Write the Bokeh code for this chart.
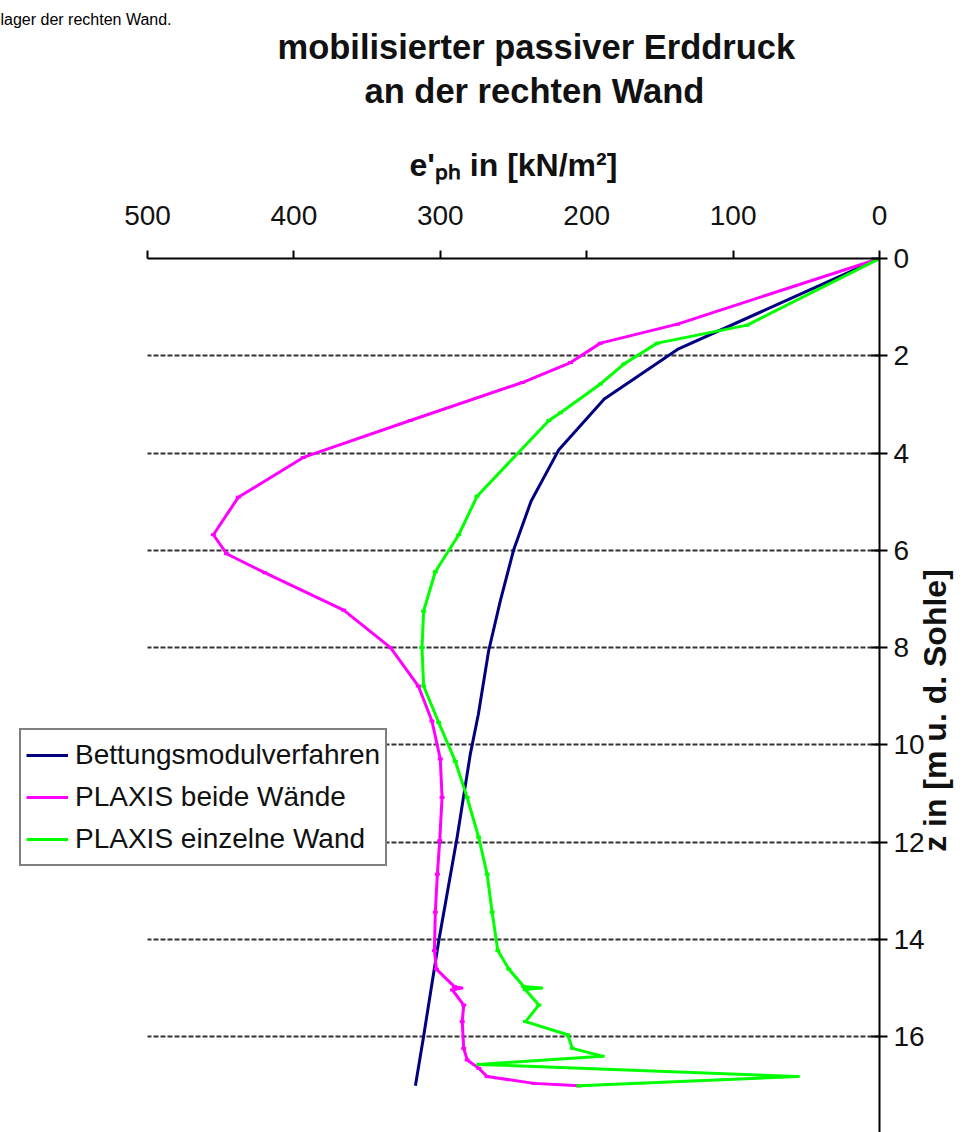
import math
from bokeh.plotting import figure
from bokeh.models import Range1d, Legend, LegendItem, FixedTicker, Title, Grid, LinearAxis
from bokeh.embed import file_html
from bokeh.resources import INLINE

# ---------------- data ----------------
navy_e = [0, 138, 188, 219, 238, 250, 259, 267, 274, 279.5, 288.5, 301, 311.5, 317]
navy_z = [0, 1.87, 2.89, 3.93, 4.99, 6.0, 7.04, 8.07, 9.37, 10.19, 11.9, 14.02, 16.01, 17.01]

magenta_e = [0, 138, 190.6, 211, 244, 320.5, 393.6, 438, 455, 446, 420, 366, 334, 315,
             305.7, 300, 298.8, 300.4, 302, 303.4, 304, 302.7, 290.4, 286, 291.7, 284,
             285, 284, 281.6, 273.7, 268, 236, 205.4]
magenta_z = [0, 1.35, 1.74, 2.14, 2.55, 3.33, 4.09, 4.91, 5.68, 6.07, 6.46, 7.23, 8.0, 8.79,
             9.51, 10.29, 11.08, 11.97, 12.66, 13.44, 14.23, 14.61, 14.97, 15.0, 15.04, 15.35,
             15.69, 16.24, 16.48, 16.65, 16.82, 16.96, 17.01]

green_e = [0, 90.4, 151.8, 174.6, 190.6, 217.9, 225.8, 274.9, 287.4, 303.4, 311.4, 312.5,
           311.4, 301.1, 289.7, 281.7, 273.8, 268, 264.6, 260.7, 253.2, 243, 231.6, 242,
           232.7, 241.8, 213, 209.8, 189.4, 273.7, 56.2, 205.4]
green_z = [0, 1.37, 1.74, 2.17, 2.58, 3.17, 3.33, 4.89, 5.68, 6.44, 7.25, 8.0,
           8.79, 9.54, 10.34, 11.08, 11.9, 12.66, 13.44, 14.23, 14.61, 14.97, 15.0, 15.03,
           15.35, 15.69, 15.96, 16.24, 16.4, 16.57, 16.82, 17.01]

series_names = ["Bettungsmodulverfahren", "PLAXIS beide Wände", "PLAXIS einzelne Wand"]
x_ticks = [0, 100, 200, 300, 400, 500]
z_ticks = [0, 2, 4, 6, 8, 10, 12, 14, 16, 18]

title_lines = ["mobilisierter passiver Erddruck", "an der rechten Wand"]
x_label = "e'\u209a\u2095 in [kN/m²]"
y_label = "z in [m u. d. Sohle]"
top_text = "lager der rechten Wand."

# ---------------- layout (canvas pixels) ----------------
W, H = 974, 1132
AX_L, FR = 147, 879                   # x=500 position, frame right
PX_PER_UNIT = (FR - AX_L) / 500.0
Z_BOTTOM = 17.97
X_START = 500 + AX_L / PX_PER_UNIT    # frame starts at canvas x = 0
Y_LABEL_START = 12.2                  # depth where the rotated y-axis title begins

FONT = "Liberation Sans"
INK = "#111111"

p = figure(width=W, height=H, x_range=Range1d(X_START, 0), y_range=Range1d(Z_BOTTOM, 0),
           x_axis_location="above", y_axis_location="right",
           output_backend="svg", toolbar_location=None, title=None,
           min_border_left=0, min_border_right=W - FR, min_border_top=0, min_border_bottom=0)
p.outline_line_color = None
p.background_fill_color = "white"
p.border_fill_color = "white"

xa = p.xaxis[0]
xa.ticker = FixedTicker(ticks=x_ticks)
xa.bounds = (0, 500)
xa.major_label_text_font = FONT
xa.major_label_text_font_size = "28px"
xa.major_label_text_color = INK
xa.major_tick_out = 8
xa.major_tick_in = 0
xa.minor_tick_out = 0
xa.minor_tick_in = 0
xa.axis_line_width = 2
xa.major_tick_line_width = 2
xa.major_label_standoff = 26

ya = p.yaxis[0]
ya.ticker = FixedTicker(ticks=z_ticks)
ya.major_label_text_font = FONT
ya.major_label_text_font_size = "28px"
ya.major_label_text_color = INK
ya.major_tick_out = 8
ya.major_tick_in = 8
ya.minor_tick_out = 0
ya.minor_tick_in = 0
ya.axis_line_width = 2
ya.major_tick_line_width = 2
ya.major_label_standoff = 6

# y-axis title, reading bottom-to-top, carried by a bare second axis on the right
ya2 = LinearAxis(ticker=FixedTicker(ticks=[Y_LABEL_START]),
                 major_label_overrides={Y_LABEL_START: y_label},
                 major_label_orientation=math.pi / 2,
                 major_label_text_font=FONT, major_label_text_font_style="bold",
                 major_label_text_font_size="32px", major_label_text_color=INK,
                 major_label_standoff=8, major_tick_out=0, major_tick_in=0,
                 minor_tick_out=0, minor_tick_in=0, axis_line_color=None,
                 major_tick_line_color=None, minor_tick_line_color=None)
p.add_layout(ya2, "right")

p.xgrid.visible = False
grid = p.ygrid[0]
grid.ticker = ya.ticker
grid.grid_line_color = "#333333"
grid.grid_line_width = 2
grid.grid_line_dash = "5 2"
if "cross_bounds" in Grid.properties():
    grid.cross_bounds = (0, 500)
else:
    grid.visible = False
    p.segment(x0=[0] * len(z_ticks), x1=[500] * len(z_ticks), y0=z_ticks, y1=z_ticks,
              line_color="#333333", line_width=2, line_dash="5 2")

r_navy = p.line(navy_e, navy_z, line_color="#000080", line_width=3, line_join="round")
r_mag = p.line(magenta_e, magenta_z, line_color="#FF00FF", line_width=3, line_join="round")
p.scatter(magenta_e, magenta_z, marker="dash", size=5, line_color="#FF00FF", line_width=3)
r_grn = p.line(green_e, green_z, line_color="#00FF00", line_width=3, line_join="round")
p.scatter(green_e, green_z, marker="dash", size=5, line_color="#00FF00", line_width=3)

legend = Legend(items=[LegendItem(label=series_names[0], renderers=[r_navy]),
                       LegendItem(label=series_names[1], renderers=[r_mag]),
                       LegendItem(label=series_names[2], renderers=[r_grn])],
                location=(19, H - 866), margin=0, padding=5, spacing=2,
                glyph_width=42, glyph_height=40, label_standoff=7,
                label_text_font=FONT, label_text_font_size="28px", label_text_color=INK,
                border_line_color="#000000", border_line_width=2.5,
                background_fill_color="white", background_fill_alpha=1.0)
p.add_layout(legend, "center")


def make_title(text, offset, standoff, size, style="bold", color=INK):
    kw = dict(text=text, align="left", offset=offset, text_font=FONT,
              text_font_style=style, text_font_size=size, text_color=color)
    try:
        return Title(standoff=standoff, **kw)
    except ValueError:
        return Title(standoff=0, **kw)


# texts above the frame, stacked outward from the axis
p.add_layout(make_title(x_label, 409, 39.5, "32px"), "above")
p.add_layout(make_title(title_lines[1], 364, 29.3, "34.5px"), "above")
p.add_layout(make_title(title_lines[0], 277, -20.6, "34.5px"), "above")
p.add_layout(make_title(top_text, 0, 17, "16px", style="normal", color="#000000"), "above")

open("out.html", "w").write(file_html(p, INLINE))
